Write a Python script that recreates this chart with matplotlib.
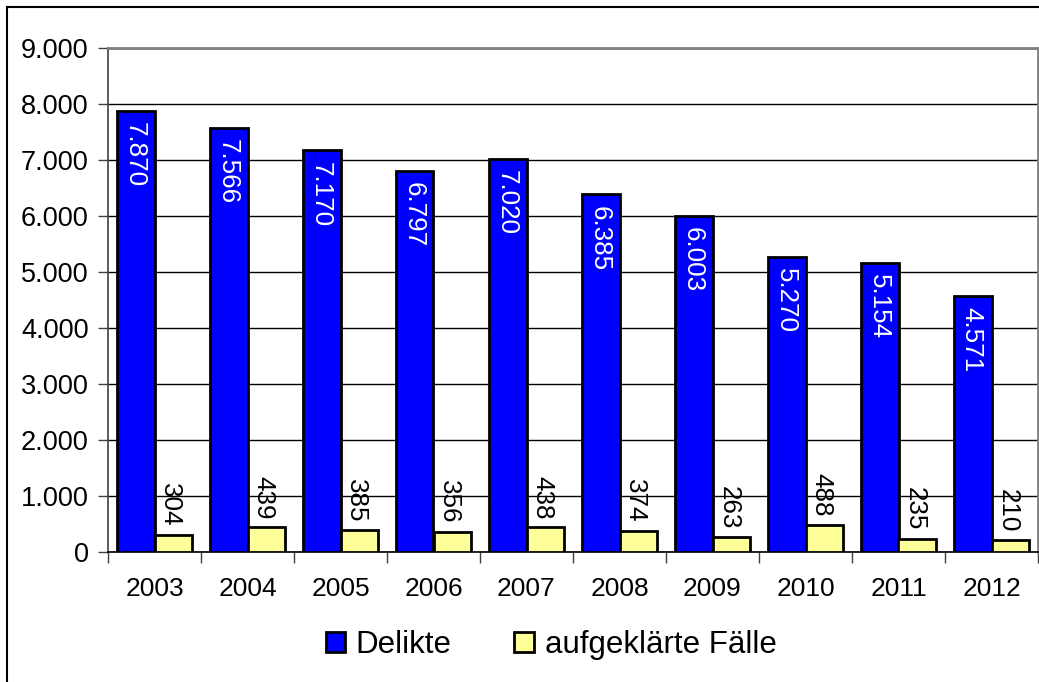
import matplotlib
matplotlib.use("Agg")
import matplotlib.pyplot as plt
from matplotlib.lines import Line2D
from matplotlib.patches import Patch
import numpy as np

years = ["2003", "2004", "2005", "2006", "2007", "2008", "2009", "2010", "2011", "2012"]
delikte = [7870, 7566, 7170, 6797, 7020, 6385, 6003, 5270, 5154, 4571]
aufgeklaert = [304, 439, 385, 356, 438, 374, 263, 488, 235, 210]
yticks = [0, 1000, 2000, 3000, 4000, 5000, 6000, 7000, 8000, 9000]
series_names = ["Delikte", "aufgeklärte Fälle"]

def fmt(v):
    return f"{v:,}".replace(",", ".")

plt.rcParams['font.family'] = ['Liberation Sans', 'DejaVu Sans']
W, H = 1039, 682
fig = plt.figure(figsize=(W / 100, H / 100), dpi=100)
ax = fig.add_axes([108 / W, 1 - 552 / H, (1038 - 108) / W, (552 - 48) / H])

x = np.arange(len(years))
bw = 0.4
ax.bar(x - bw / 2, delikte, bw, color="#0000FF", edgecolor="black", linewidth=2, zorder=3)
ax.bar(x + bw / 2, aufgeklaert, bw, color="#FFFF99", edgecolor="black", linewidth=2, zorder=3)

fs = 18.7
tfs = 19.5
for xi, v in zip(x, delikte):
    ax.annotate(fmt(v), (xi - bw / 2, v), xytext=(-1, -8), textcoords="offset points",
                rotation=270, ha="center", va="top", color="white", fontsize=fs, zorder=4)
for xi, v in zip(x, aufgeklaert):
    ax.annotate(fmt(v), (xi + bw / 2, v), xytext=(-2, 6), textcoords="offset points",
                rotation=270, ha="center", va="bottom", color="black", fontsize=fs, zorder=4)

ax.set_xlim(-0.5, len(years) - 0.5)
ax.set_ylim(0, 9000)
ax.set_yticks(yticks)
ax.set_yticklabels([fmt(v) for v in yticks], fontsize=tfs)
ax.yaxis.grid(True, color="black", linewidth=1, zorder=0)
ax.set_axisbelow(True)
ax.tick_params(axis="y", length=7, width=1, color="#404040", pad=7)

ax.set_xticks(x)
ax.set_xticklabels(years, fontsize=19)
ax.tick_params(axis="x", length=0, pad=18)
ax.set_xticks(np.arange(-0.5, len(years), 1), minor=True)
ax.tick_params(axis="x", which="minor", length=8, width=1, color="#404040")

ax.spines["left"].set_color("#404040")
ax.spines["left"].set_linewidth(1.2)
ax.spines["bottom"].set_color("black")
ax.spines["bottom"].set_linewidth(1.2)
ax.spines["top"].set_color("#808080")
ax.spines["top"].set_linewidth(2)
ax.spines["right"].set_color("#808080")
ax.spines["right"].set_linewidth(2)

handles = [Patch(facecolor="#0000FF", edgecolor="black", linewidth=2),
           Patch(facecolor="#FFFF99", edgecolor="black", linewidth=2)]
fig.legend(handles, series_names, loc="center", bbox_to_anchor=(551 / W, 1 - 645 / H),
           ncol=2, frameon=False, fontsize=22.5, handlelength=0.62, handleheight=0.62,
           handletextpad=0.35, columnspacing=2.0)

# figure border (left and top)
fig.add_artist(Line2D([7 / W, 7 / W], [0, 1 - 7 / H], transform=fig.transFigure,
                      color="black", linewidth=1.5))
fig.add_artist(Line2D([7 / W, 1], [1 - 7 / H, 1 - 7 / H], transform=fig.transFigure,
                      color="black", linewidth=1.5))

fig.savefig("out.png", dpi=100)
